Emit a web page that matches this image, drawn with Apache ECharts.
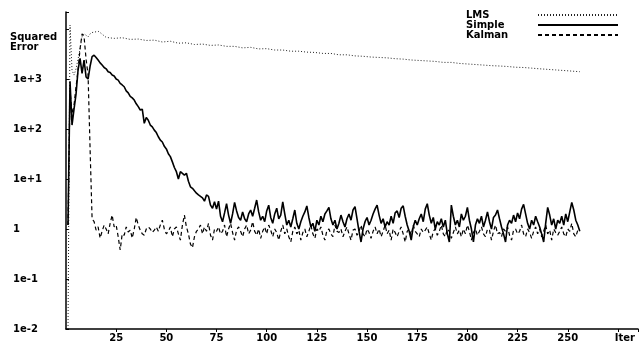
<!DOCTYPE html>
<html><head><meta charset="utf-8">
<script src="https://cdn.jsdelivr.net/npm/echarts@6/dist/echarts.min.js"></script>
<style>html,body{margin:0;padding:0;background:#fff}#c{width:640px;height:341px}</style>
</head><body><div id="c"></div>
<script>
// ---- data ----
const seriesNames = ['LMS', 'Simple', 'Kalman'];
const xTickLabels = [25, 50, 75, 100, 125, 150, 175, 200, 225, 250];
const xAxisTitle = 'Iter';
const yTickLabels = ['1e-2', '1e-1', '1', '1e+1', '1e+2', '1e+3']; // exponents -2 .. 3
const yAxisTitle = 'Squared\nError';

const lmsIter = [1,2,3,4,5,6,7,8,9,10,11,12,13,14,15,16,17,
  20,24,28,32,36,40,44,48,52,56,60,64,68,72,76,80,84,88,92,96,
  100,104,108,112,116,120,124,128,132,136,140,144,148,152,156,160,164,168,172,176,
  180,184,188,192,196,200,204,208,212,216,220,224,228,232,236,240,244,248,252,256];
const lmsValue = [0.01,12000,1500,1200,1600,2500,4000,7000,8000,7500,7000,8000,8500,8700,8800,9000,8500,
  6800,6500,6700,6200,6300,5900,6000,5500,5700,5200,5300,4900,5000,4700,4800,4500,4500,4200,4300,4000,
  4050,3800,3800,3600,3600,3450,3400,3250,3250,3050,3050,2900,2850,2750,2700,2650,2550,2500,2400,2350,
  2300,2250,2150,2150,2050,2000,1950,1900,1850,1820,1780,1720,1700,1650,1600,1560,1520,1480,1440,1400];

// one value per iteration, iteration 1 .. 256
const simpleValue = [
  1.2, 900, 120, 250, 500, 1500, 2600, 1300, 2400, 1100,
  1000, 1800, 2800, 3000, 2700, 2400, 2100, 1900, 1700, 1600,
  1400, 1350, 1200, 1150, 1000, 950, 820, 760, 700, 580,
  530, 450, 420, 380, 320, 280, 240, 250, 130, 170,
  150, 120, 110, 95, 85, 70, 60, 55, 45, 40,
  32, 28, 22, 17, 14, 10, 14, 13, 12, 13,
  9, 7, 6.5, 5.8, 5.2, 4.8, 4.5, 4.2, 3.6, 4.8,
  4.5, 3.0, 2.6, 3.5, 2.5, 3.6, 1.8, 1.4, 2.1, 3.2,
  1.9, 1.3, 2.0, 3.4, 2.3, 1.7, 1.5, 2.2, 1.6, 1.4,
  2.0, 2.4, 1.8, 2.6, 3.8, 2.2, 1.5, 1.8, 1.4, 2.3,
  3.0, 1.7, 1.3, 2.0, 2.6, 1.6, 1.9, 3.5, 2.0, 1.2,
  1.5, 1.1, 1.6, 2.4, 1.3, 1.0, 1.4, 1.8, 2.2, 2.9,
  1.7, 1.1, 1.3, 0.9, 1.5, 1.2, 1.8, 1.4, 2.0, 2.3,
  2.7, 1.6, 1.2, 1.5, 1.0, 1.3, 1.9, 1.4, 1.1, 1.6,
  2.0, 1.5, 2.4, 2.8, 1.6, 0.9, 0.55, 1.0, 1.4, 1.7,
  1.2, 1.5, 2.0, 2.5, 3.0, 1.9, 1.3, 1.6, 1.1, 1.4,
  1.2, 1.8, 1.3, 2.1, 2.3, 1.7, 2.6, 2.9, 1.8, 1.2,
  0.9, 0.6, 1.1, 1.5, 1.2, 1.6, 2.0, 1.4, 2.5, 3.2,
  1.9, 1.3, 1.7, 1.0, 1.4, 1.2, 1.6, 1.1, 1.5, 0.8,
  0.55, 3.0, 1.8, 1.2, 1.5, 1.1, 2.0, 1.5, 1.8, 2.7,
  1.5, 1.0, 0.55, 1.2, 1.6, 1.3, 1.8, 1.1, 1.5, 2.2,
  1.4, 1.0, 1.7, 1.9, 2.4, 1.6, 1.1, 0.8, 0.55, 1.2,
  1.5, 1.3, 1.9, 1.4, 2.1, 1.6, 2.5, 3.1, 2.0, 1.3,
  1.0, 1.5, 1.2, 1.8, 1.4, 1.1, 0.8, 0.55, 1.3, 2.7,
  1.9, 1.2, 1.6, 1.0, 1.5, 1.3, 1.8, 1.2, 2.0, 1.4,
  2.2, 3.4, 2.4, 1.5, 1.2, 0.9
];
const kalmanValue = [
  1.2, 600, 200, 300, 700, 1500, 4000, 8000, 7000, 2500,
  1200, 40, 1.6, 1.4, 0.95, 1.1, 0.66, 0.9, 1.2, 1.0,
  0.8, 1.3, 1.9, 1.1, 1.2, 0.7, 0.38, 0.8, 0.75, 1.1,
  0.87, 0.95, 0.66, 1.0, 1.7, 1.2, 0.95, 0.8, 0.75, 1.0,
  1.1, 1.0, 0.85, 0.95, 1.1, 0.9, 1.2, 1.5, 1.0, 0.8,
  0.9, 1.1, 0.7, 1.0, 1.1, 0.8, 0.6, 1.2, 1.9, 1.1,
  0.8, 0.5, 0.42, 0.7, 0.9, 1.0, 1.2, 0.8, 1.1, 0.9,
  1.3, 0.75, 0.6, 1.0, 0.9, 1.1, 0.8, 0.9, 1.2, 0.7,
  1.0, 1.3, 0.85, 0.6, 0.95, 1.1, 0.9, 0.7, 1.0, 1.2,
  0.8, 0.95, 1.4, 0.9, 0.75, 1.0, 0.65, 0.9, 1.1, 0.8,
  1.2, 0.95, 0.7, 1.0, 0.85, 0.6, 0.9, 1.2, 0.8, 1.0,
  0.7, 0.55, 0.9, 1.1, 0.8, 0.95, 0.6, 0.85, 1.0, 0.7,
  0.9, 1.2, 0.8, 0.65, 1.0, 0.9, 1.1, 0.75, 0.6, 0.95,
  1.0, 0.8, 0.7, 1.2, 0.9, 0.85, 1.0, 0.7, 0.9, 1.1,
  0.8, 0.6, 0.95, 1.0, 0.75, 0.9, 1.2, 0.8, 0.7, 1.0,
  0.85, 0.65, 0.9, 1.1, 0.8, 1.0, 0.7, 0.9, 1.2, 0.8,
  0.95, 0.6, 1.0, 0.85, 0.7, 0.9, 1.1, 0.8, 0.55, 0.9,
  1.0, 0.75, 1.2, 0.9, 0.8, 0.7, 1.0, 0.85, 0.95, 1.1,
  0.8, 0.6, 0.9, 1.0, 0.75, 0.9, 1.2, 0.8, 0.7, 1.0,
  0.9, 0.65, 0.85, 1.1, 0.8, 0.95, 0.7, 1.0, 0.8, 1.2,
  0.9, 0.6, 0.85, 1.0, 0.75, 0.9, 1.1, 0.8, 0.7, 1.0,
  0.95, 0.6, 0.9, 1.2, 0.8, 0.85, 0.7, 1.0, 0.9, 1.1,
  0.75, 0.6, 0.95, 1.0, 0.8, 0.9, 1.2, 0.8, 0.7, 1.0,
  0.85, 0.65, 0.9, 1.1, 0.8, 1.0, 0.7, 0.9, 1.2, 0.8,
  0.95, 0.6, 1.0, 0.85, 0.75, 0.9, 1.1, 0.8, 0.7, 1.0,
  0.9, 1.3, 0.8, 0.7, 0.95, 0.9
];

// ---- build ----
const FONT = '"DejaVu Sans", sans-serif';
const lmsData = lmsIter.map((it, i) => [it, lmsValue[i]]);
const simpleData = simpleValue.map((v, i) => [i + 1, v]);
const kalmanData = kalmanValue.map((v, i) => [i + 1, v]);

const chart = echarts.init(document.getElementById('c'), null, {renderer: 'canvas'});
chart.setOption({
  animation: false,
  backgroundColor: '#fff',
  grid: {left: 66, right: 2, top: 12, bottom: 12, containLabel: false, outerBoundsMode: 'none'},
  legend: {
    data: seriesNames,
    orient: 'vertical',
    align: 'right',
    right: 21,
    top: 10,
    itemWidth: 80,
    itemHeight: 4,
    itemGap: 0,
    padding: 0,
    itemStyle: {opacity: 0, borderWidth: 0},
    textStyle: {
      fontFamily: FONT, fontWeight: 'bold', fontSize: 10, color: '#000', lineHeight: 8,
      rich: {n: {width: 67, align: 'left', fontFamily: FONT, fontWeight: 'bold', fontSize: 10, lineHeight: 8}}
    },
    formatter: '{n|{name}}'
  },
  graphic: [{
    type: 'text', left: 10, top: 32,
    style: {text: yAxisTitle, font: 'bold 10px ' + FONT, fill: '#000', lineHeight: 10}
  }],
  xAxis: {
    type: 'value', min: 0, max: 285, interval: 25,
    axisLine: {lineStyle: {color: '#000', width: 1.5}},
    axisTick: {show: true, inside: false, length: 3, lineStyle: {color: '#000'}},
    splitLine: {show: false},
    axisLabel: {
      color: '#000', fontFamily: FONT, fontWeight: 'bold', fontSize: 10, margin: 4,
      showMinLabel: false, showMaxLabel: true,
      rich: {t: {padding: [0, 0, 0, 14], fontFamily: FONT, fontWeight: 'bold', fontSize: 10, color: '#000'}},
      formatter: v => (xTickLabels.indexOf(v) >= 0 ? String(v) : (v === 275 ? '{t|' + xAxisTitle + '}' : ''))
    }
  },
  yAxis: {
    type: 'log', logBase: 10, min: 0.01, max: 21900,
    axisLine: {show: true, lineStyle: {color: '#000', width: 1.5}},
    axisTick: {show: true, inside: true, length: 3, lineStyle: {color: '#000'}},
    splitLine: {show: false},
    axisLabel: {
      color: '#000', fontFamily: FONT, fontWeight: 'bold', fontSize: 10,
      align: 'left', margin: 53,
      formatter: v => {
        const e = Math.round(Math.log10(v));
        if (Math.abs(Math.log10(v) - e) > 1e-6) return '';
        const idx = e + 2;
        return (idx >= 0 && idx < yTickLabels.length) ? yTickLabels[idx] : '';
      }
    }
  },
  series: [
    {name: 'LMS', type: 'line', data: lmsData, symbol: 'none', z: 2,
     lineStyle: {color: '#222', width: 1, type: [1, 2]}, itemStyle: {color: '#222'}},
    {name: 'Kalman', type: 'line', data: kalmanData, symbol: 'none', z: 3,
     lineStyle: {color: '#000', width: 1.2, type: [4, 3]}, itemStyle: {color: '#000'}},
    {name: 'Simple', type: 'line', data: simpleData, symbol: 'none', z: 4,
     lineStyle: {color: '#000', width: 1.6}, itemStyle: {color: '#000'}}
  ]
});
</script></body></html>
